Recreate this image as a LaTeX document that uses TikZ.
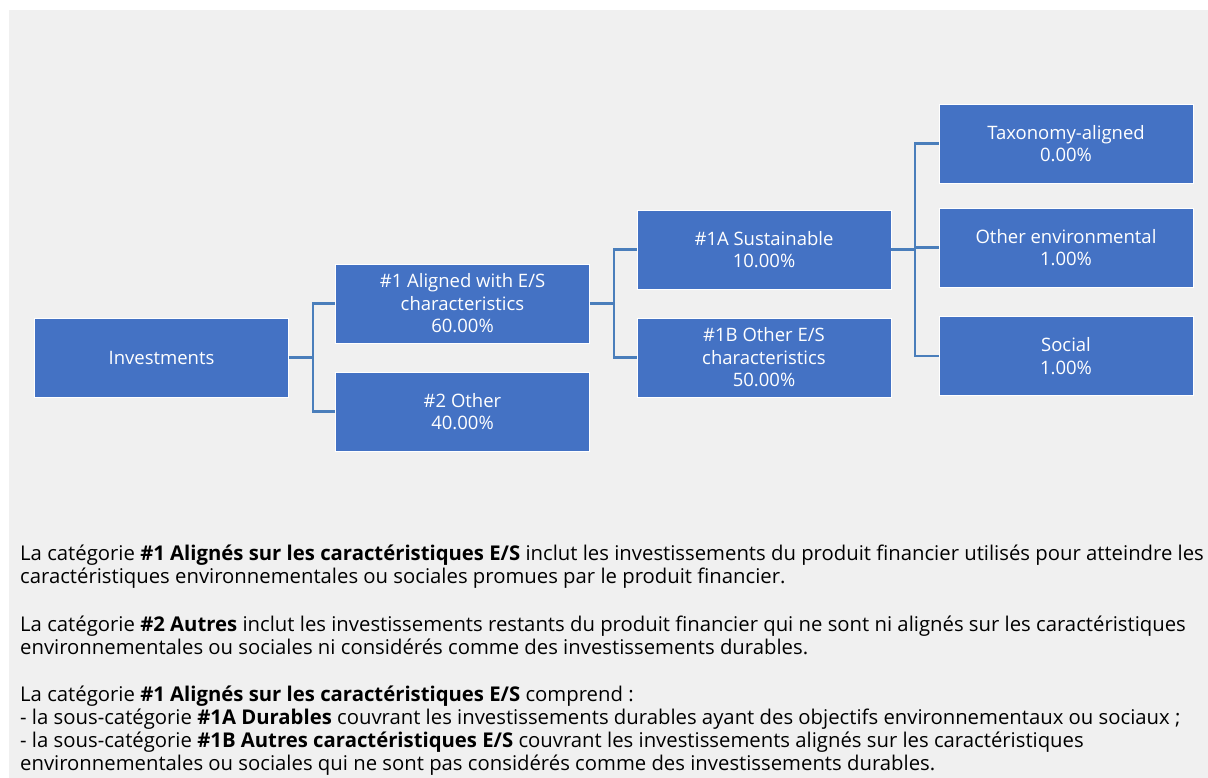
\documentclass[tikz,border=0pt]{standalone}
\usepackage{fontspec}
\setmainfont{Open Sans}
\definecolor{boxblue}{HTML}{4472C4}
\definecolor{lineblue}{HTML}{4A7EBB}
\definecolor{panel}{HTML}{F0F0F0}
\begin{document}
\begin{tikzpicture}[x=1bp,y=-1bp,
  cat/.style={rectangle, fill=boxblue, draw=white, line width=0.6bp, text=white, align=center,
    minimum width=254bp, minimum height=79bp, inner sep=0pt, font=\fontsize{18.5bp}{22.5bp}\selectfont},
  link/.style={draw=lineblue, line width=2.2bp},
  para/.style={anchor=base west, inner sep=0pt, font=\fontsize{20.3bp}{23bp}\selectfont}]
\useasboundingbox (0,0) rectangle (1208,778);
\fill[white] (0,0) rectangle (1208,778);
\fill[panel] (9,10) rectangle (1208,778);
% boxes
\node[cat] (inv) at (161.5,357.5) {Investments};
\node[cat] (a1) at (462.5,303.5) {\#1 Aligned with E/S\\characteristics\\60.00\%};
\node[cat] (o2) at (462.5,411.5) {\#2 Other\\40.00\%};
\node[cat] (s1a) at (764,249.5) {\#1A Sustainable\\10.00\%};
\node[cat] (s1b) at (764,357.5) {\#1B Other E/S\\characteristics\\50.00\%};
\node[cat] (tax) at (1066,143.5) {Taxonomy-aligned\\0.00\%};
\node[cat] (env) at (1066,247.5) {Other environmental\\1.00\%};
\node[cat] (soc) at (1066,356) {Social\\1.00\%};
% connectors
\coordinate (j1) at ([xshift=24bp]inv.east);
\coordinate (j2) at ([xshift=24bp]a1.east);
\coordinate (j3) at ([xshift=24bp]s1a.east);
\draw[link] (inv.east) -- (j1);
\draw[link] (j1) |- (a1.west);
\draw[link] (j1) |- (o2.west);
\draw[link] (a1.east) -- (j2);
\draw[link] (j2) |- (s1a.west);
\draw[link] (j2) |- (s1b.west);
\draw[link] (s1a.east) -- (j3);
\draw[link] (j3) |- (tax.west);
\draw[link] (j3) |- (env.west);
\draw[link] (j3) |- (soc.west);
% text
\node[para] (t1) at (20,560) {La catégorie \textbf{\#1 Alignés sur les caractéristiques E/S} inclut les investissements du produit financier utilisés pour atteindre les};
\node[para] (t2) at (20,583) {caractéristiques environnementales ou sociales promues par le produit financier.};
\node[para] (t3) at (20,631) {La catégorie \textbf{\#2 Autres} inclut les investissements restants du produit financier qui ne sont ni alignés sur les caractéristiques};
\node[para] (t4) at (20,654) {environnementales ou sociales ni considérés comme des investissements durables.};
\node[para] (t5) at (20,701) {La catégorie \textbf{\#1 Alignés sur les caractéristiques E/S} comprend :};
\node[para] (t6) at (20,724) {- la sous-catégorie \textbf{\#1A Durables} couvrant les investissements durables ayant des objectifs environnementaux ou sociaux ;};
\node[para] (t7) at (20,747) {- la sous-catégorie \textbf{\#1B Autres caractéristiques E/S} couvrant les investissements alignés sur les caractéristiques};
\node[para] (t8) at (20,770) {environnementales ou sociales qui ne sont pas considérés comme des investissements durables.};
\end{tikzpicture}
\end{document}
